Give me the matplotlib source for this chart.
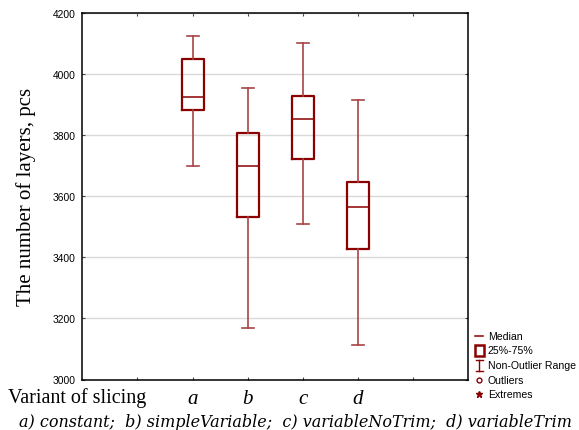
import matplotlib
matplotlib.use("Agg")
import matplotlib.pyplot as plt
from matplotlib.lines import Line2D
from matplotlib.patches import Rectangle

# ---- data ----
categories = ["a", "b", "c", "d"]
positions = [2, 3, 4, 5]
whisker_low = [3698, 3169, 3508, 3114]
q1 = [3881, 3530, 3720, 3427]
median = [3925, 3697, 3851, 3563]
q3 = [4048, 3807, 3928, 3646]
whisker_high = [4124, 3953, 4102, 3916]
y_ticks = [3000, 3200, 3400, 3600, 3800, 4000, 4200]
legend_labels = ["Median", "25%-75%", "Non-Outlier Range", "Outliers", "Extremes"]
caption = "a) constant;  b) simpleVariable;  c) variableNoTrim;  d) variableTrim"

W, H = 579, 431
fig = plt.figure(figsize=(W / 100, H / 100), dpi=100)
L, R, T, B = 82.3, 468.3, 13.7, 380.5
ax = fig.add_axes([L / W, 1 - B / H, (R - L) / W, (B - T) / H])

box_col = "#8B0000"
whisk_col = "#A84448"

stats = []
for i in range(len(categories)):
    stats.append(dict(whislo=whisker_low[i], q1=q1[i], med=median[i],
                      q3=q3[i], whishi=whisker_high[i], fliers=[], label=categories[i]))
ax.bxp(stats, positions=positions, widths=0.4, showfliers=False,
       boxprops=dict(color=box_col, linewidth=1.6),
       medianprops=dict(color=box_col, linewidth=1.1),
       whiskerprops=dict(color=whisk_col, linewidth=1.2),
       capprops=dict(color=whisk_col, linewidth=1.2),
       capwidths=0.22, zorder=3)

ax.set_xlim(0, 7)
ax.set_ylim(3000, 4200)
ax.set_yticks(y_ticks)
ax.set_yticklabels([str(v) for v in y_ticks], fontfamily="Liberation Sans", fontsize=7.4)
ax.set_xticks([1, 2, 3, 4, 5, 6])
ax.set_xticklabels([""] + categories + [""], fontfamily="Liberation Serif",
                   fontstyle="italic", fontsize=15)
ax.tick_params(axis="both", direction="in", length=2, width=0.8, color="#444444",
               top=True, right=True)
ax.tick_params(axis="y", pad=5)
ax.tick_params(axis="x", pad=7)
ax.grid(axis="y", color="#d9d9d9", linewidth=1.0, zorder=0)
ax.set_axisbelow(True)
for s in ax.spines.values():
    s.set_linewidth(1.1)
    s.set_color("black")

ax.set_ylabel("The number of layers, pcs", fontfamily="Liberation Serif", fontsize=15,
              labelpad=12)

# overlay for texts and legend in pixel coordinates
ov = fig.add_axes([0, 0, 1, 1], facecolor="none")
ov.set_xlim(0, W)
ov.set_ylim(H, 0)
ov.axis("off")

ov.text(8, 398, "Variant of slicing", fontfamily="Liberation Serif", fontsize=14.5,
        ha="left", va="center")
ov.text(295, 423, caption, fontfamily="DejaVu Serif", fontstyle="italic", fontsize=11.5,
        ha="center", va="center")

lx = 488
ys = [337, 351, 366, 381, 395]
ov.add_line(Line2D([474.5, 483], [ys[0], ys[0]], color=box_col, lw=1.1))
ov.add_patch(Rectangle((475, ys[1] - 5.5), 8.5, 11, fill=False, ec=box_col, lw=1.8))
ov.add_line(Line2D([479, 479], [ys[2] - 5.5, ys[2] + 5.5], color=box_col, lw=1.0))
ov.add_line(Line2D([475.5, 482.5], [ys[2] - 5.5, ys[2] - 5.5], color=box_col, lw=1.0))
ov.add_line(Line2D([475.5, 482.5], [ys[2] + 5.5, ys[2] + 5.5], color=box_col, lw=1.0))
ov.plot([479], [ys[3]], marker="o", ms=3.5, mfc="none", mec=box_col, mew=1.0)
ov.plot([479], [ys[4]], marker="*", ms=5, color=box_col)
for y, lab in zip(ys, legend_labels):
    ov.text(lx, y, lab, fontfamily="Liberation Sans", fontsize=7.6, ha="left", va="center")

fig.savefig("out.png", dpi=100)
